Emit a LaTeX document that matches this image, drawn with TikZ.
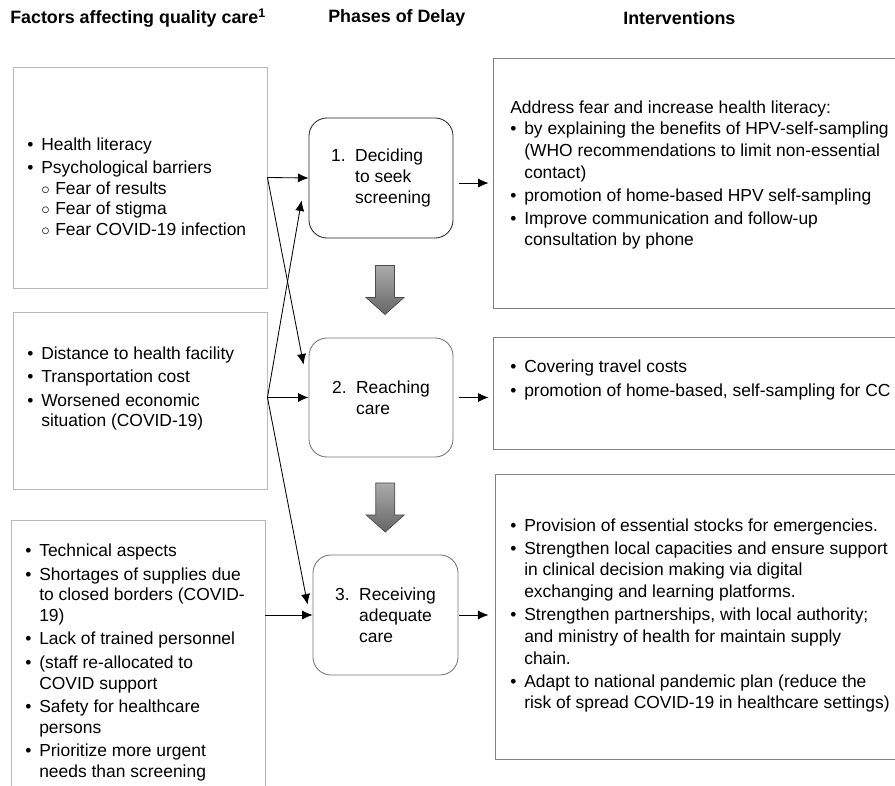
\documentclass[tikz,border=0pt]{standalone}
\usepackage{fontspec}
\setmainfont{Liberation Sans}
\usetikzlibrary{arrows.meta,calc}

\newcommand{\itm}{\makebox[0.35cm][l]{\textbullet}}
\newcommand{\subitm}{\hspace*{0.35cm}\makebox[0.35cm][l]{$\circ$}}
\newcommand{\indt}{\hspace*{0.35cm}}

\begin{document}
\begin{tikzpicture}[x=0.025cm, y=-0.025cm,
    facbox/.style={draw=gray!55, line width=0.6pt, minimum width=6.35cm},
    intbox/.style={draw=black!50, line width=0.6pt},
    phase/.style={draw=black!55, line width=0.6pt, rounded corners=0.45cm, minimum width=3.6cm, minimum height=3cm, align=left, font=\fontsize{12.4}{14.9}\selectfont},
    txt/.style={anchor=west, inner sep=0pt, align=left, font=\fontsize{12.4}{14.6}\selectfont},
    rtxt/.style={txt, font=\fontsize{12.4}{15.4}\selectfont},
    head/.style={anchor=west, inner sep=0pt, font=\bfseries\fontsize{12.7}{15}\selectfont},
    arr/.style={-{Latex[length=7.5pt,width=6.5pt]}, line width=0.6pt},
    darrow/.pic={\draw[draw=black!70, line width=0.5pt, top color=black!33, bottom color=black!60]
        (-9.5,-24.5) -- (9.5,-24.5) -- (9.5,7.5) -- (19,7.5) -- (0,24.5) -- (-19,7.5) -- (-9.5,7.5) -- cycle;}
]
    \useasboundingbox (0,0) rectangle (895,786);
    \clip (0,0) rectangle (895,786);

    % column heads
    \node[head] (hfac) at (10,18) {Factors affecting quality care\textsuperscript{1}};
    \node[head] (hphase) at (328,18) {Phases of Delay};
    \node[head] (hint) at (623,18) {Interventions};

    % factors
    \node[facbox, minimum height=5.525cm] (f1) at (140,177.5) {};
    \node[facbox, minimum height=4.425cm] (f2) at (140,400.5) {};
    \node[facbox, minimum height=7.25cm] (f3) at (138,665) {};

    \node[txt] (f1t) at (27,186.5) {\itm Health literacy\\[2.2pt]
        \itm Psychological barriers\\
        \subitm Fear of results\\
        \subitm Fear of stigma\\
        \subitm Fear COVID-19 infection};
    \node[txt] (f2t) at (27,388.5) {\itm Distance to health facility\\[2.2pt]
        \itm Transportation cost\\[2.2pt]
        \itm Worsened economic\\
        \indt situation (COVID-19)};
    \node[txt] (f3t) at (25,662.5) {\itm Technical aspects\\[2.2pt]
        \itm Shortages of supplies due\\
        \indt to closed borders (COVID-\\
        \indt 19)\\[2.2pt]
        \itm Lack of trained personnel\\[2.2pt]
        \itm (staff re-allocated to\\
        \indt COVID support\\[2.2pt]
        \itm Safety for healthcare\\
        \indt persons\\[2.2pt]
        \itm Prioritize more urgent\\
        \indt needs than screening};

    % phases
    \node[phase, draw=black!85] (p1) at (381,178) {\makebox[0.6cm][l]{1.}Deciding\\ \hspace*{0.6cm}to seek\\ \hspace*{0.6cm}screening};
    \node[phase, minimum height=2.975cm] (p2) at (381,397.5) {\makebox[0.6cm][l]{2.}Reaching\\ \hspace*{0.6cm}care};
    \node[phase, minimum width=3.625cm] (p3) at (385.5,615) {\makebox[0.6cm][l]{3.}Receiving\\ \hspace*{0.6cm}adequate\\ \hspace*{0.6cm}care};

    \coordinate (m1) at ($(p1.south)!0.5!(p2.north)+(4,2)$);
    \coordinate (m2) at ($(p2.south)!0.5!(p3.north)+(2,1.5)$);
    \pic (a1) at (m1) {darrow};
    \pic (a2) at (m2) {darrow};

    % interventions
    \node[intbox, minimum width=10.3cm, minimum height=6.25cm] (i1) at (699,183) {};
    \node[intbox, minimum width=10.3cm, minimum height=2.8cm] (i2) at (699,393) {};
    \node[intbox, minimum width=10.25cm, minimum height=7.125cm] (i3) at (700,616.5) {};

    \node[rtxt] (i1t) at (510,175) {Address fear and increase health literacy:\\
        \itm by explaining the benefits of HPV-self-sampling\\
        \indt (WHO recommendations to limit non-essential\\
        \indt contact)\\[1pt]
        \itm promotion of home-based HPV self-sampling\\[1pt]
        \itm Improve communication and follow-up\\
        \indt consultation by phone};
    \node[rtxt] (i2t) at (510,380) {\itm Covering travel costs\\[1pt]
        \itm promotion of home-based, self-sampling for CC};
    \node[rtxt] (i3t) at (510,615.5) {\itm Provision of essential stocks for emergencies.\\[1pt]
        \itm Strengthen local capacities and ensure support\\
        \indt in clinical decision making via digital\\
        \indt exchanging and learning platforms.\\[1pt]
        \itm Strengthen partnerships, with local authority;\\
        \indt and ministry of health for maintain supply\\
        \indt chain.\\[1pt]
        \itm Adapt to national pandemic plan (reduce the\\
        \indt risk of spread COVID-19 in healthcare settings)};

    % connectors
    \draw[arr] (f1.east) -- (p1.west);
    \draw[arr] (f1.east) -- ($(p2.north west)+(-5,27)$);
    \draw[arr] (p2.west -| f2.east) -- (p2.west);
    \draw[arr] (p2.west -| f2.east) -- ($(p1.south west)+(-7,-38)$);
    \draw[arr] (p2.west -| f2.east) -- ($(p3.north west)+(-5,50)$);
    \draw[arr] (p3.west -| f3.east) -- (p3.west);

    \draw[arr, shorten <=4.3pt, shorten >=2.8pt] (i1.west -| p1.east) -- (i1.west);
    \draw[arr, shorten <=4.3pt, shorten >=2.8pt] (p2.east) -- (p2.east -| i2.west);
    \draw[arr, shorten <=0.7pt, shorten >=4.3pt] (p3.east) -- (p3.east -| i3.west);

\end{tikzpicture}
\end{document}
